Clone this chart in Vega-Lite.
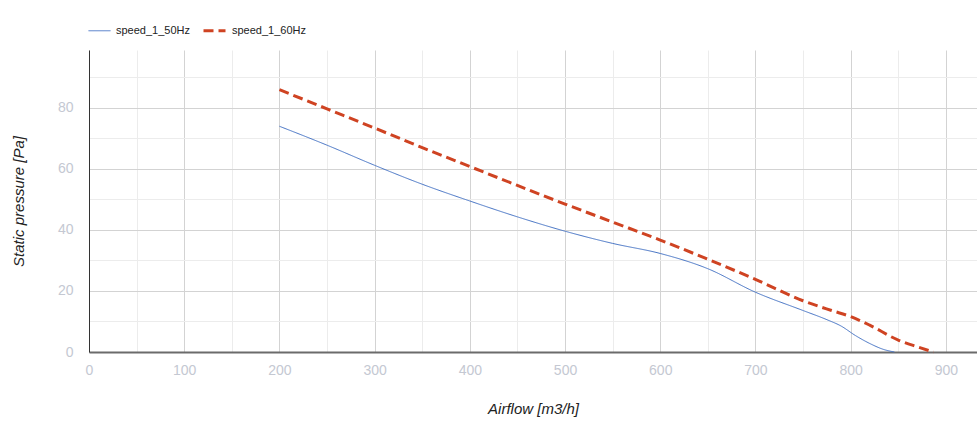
{
  "$schema": "https://vega.github.io/schema/vega-lite/v6.json",
  "autosize": "none",
  "width": 888,
  "height": 302,
  "padding": {"left": 89, "top": 50, "right": 0, "bottom": 70},
  "background": "white",
  "config": {
    "view": {"stroke": null},
    "font": "Liberation Sans",
    "axis": {"labelFont": "Liberation Sans", "titleFont": "Liberation Sans"}
  },
  "data": {
    "values": [
      {"series": "speed_1_50Hz", "airflow": 200, "pressure": 74},
      {"series": "speed_1_50Hz", "airflow": 250, "pressure": 67.8},
      {"series": "speed_1_50Hz", "airflow": 300, "pressure": 61.2},
      {"series": "speed_1_50Hz", "airflow": 350, "pressure": 55},
      {"series": "speed_1_50Hz", "airflow": 400, "pressure": 49.5},
      {"series": "speed_1_50Hz", "airflow": 450, "pressure": 44.3},
      {"series": "speed_1_50Hz", "airflow": 500, "pressure": 39.6},
      {"series": "speed_1_50Hz", "airflow": 550, "pressure": 35.6},
      {"series": "speed_1_50Hz", "airflow": 600, "pressure": 32.3},
      {"series": "speed_1_50Hz", "airflow": 650, "pressure": 27.3},
      {"series": "speed_1_50Hz", "airflow": 700, "pressure": 19.6},
      {"series": "speed_1_50Hz", "airflow": 750, "pressure": 13.6},
      {"series": "speed_1_50Hz", "airflow": 775, "pressure": 10.6},
      {"series": "speed_1_50Hz", "airflow": 790, "pressure": 8.5},
      {"series": "speed_1_50Hz", "airflow": 805, "pressure": 5.4},
      {"series": "speed_1_50Hz", "airflow": 820, "pressure": 2.8},
      {"series": "speed_1_50Hz", "airflow": 835, "pressure": 0.8},
      {"series": "speed_1_50Hz", "airflow": 846, "pressure": 0},
      {"series": "speed_1_60Hz", "airflow": 200, "pressure": 86},
      {"series": "speed_1_60Hz", "airflow": 250, "pressure": 79.7},
      {"series": "speed_1_60Hz", "airflow": 300, "pressure": 73.4},
      {"series": "speed_1_60Hz", "airflow": 350, "pressure": 67},
      {"series": "speed_1_60Hz", "airflow": 400, "pressure": 60.8},
      {"series": "speed_1_60Hz", "airflow": 450, "pressure": 54.6},
      {"series": "speed_1_60Hz", "airflow": 500, "pressure": 48.5},
      {"series": "speed_1_60Hz", "airflow": 550, "pressure": 42.6},
      {"series": "speed_1_60Hz", "airflow": 600, "pressure": 36.7},
      {"series": "speed_1_60Hz", "airflow": 650, "pressure": 30.4},
      {"series": "speed_1_60Hz", "airflow": 700, "pressure": 23.8},
      {"series": "speed_1_60Hz", "airflow": 750, "pressure": 16.8},
      {"series": "speed_1_60Hz", "airflow": 780, "pressure": 13.6},
      {"series": "speed_1_60Hz", "airflow": 800, "pressure": 11.6},
      {"series": "speed_1_60Hz", "airflow": 820, "pressure": 8.8},
      {"series": "speed_1_60Hz", "airflow": 850, "pressure": 3.9},
      {"series": "speed_1_60Hz", "airflow": 870, "pressure": 1.7},
      {"series": "speed_1_60Hz", "airflow": 887, "pressure": 0}
    ]
  },
  "resolve": {"axis": {"x": "independent", "y": "independent"}},
  "layer": [
    {
      "mark": {"type": "line", "strokeOpacity": 0},
      "encoding": {
        "x": {
          "field": "airflow", "type": "quantitative",
          "scale": {"domain": [0, 932.7], "nice": false, "zero": false},
          "axis": {
            "orient": "bottom", "values": [50, 150, 250, 350, 450, 550, 650, 750, 850],
            "grid": true, "gridColor": "#ececec", "gridWidth": 1,
            "labels": false, "ticks": false, "domain": false, "title": null
          }
        },
        "y": {
          "field": "pressure", "type": "quantitative",
          "scale": {"domain": [0, 99], "nice": false},
          "axis": {
            "orient": "left", "values": [10, 30, 50, 70, 90],
            "grid": true, "gridColor": "#ececec", "gridWidth": 1,
            "labels": false, "ticks": false, "domain": false, "title": null
          }
        },
        "detail": {"field": "series"}
      }
    },
    {
      "mark": {"type": "line", "interpolate": "monotone"},
      "encoding": {
        "x": {
          "field": "airflow", "type": "quantitative",
          "scale": {"domain": [0, 932.7], "nice": false, "zero": false},
          "axis": {
            "orient": "bottom", "values": [0, 100, 200, 300, 400, 500, 600, 700, 800, 900],
            "grid": true, "gridColor": "#d3d3d3", "gridWidth": 1,
            "ticks": false, "tickSize": 0, "labelFlush": false,
            "domain": true, "domainColor": "#6b6b6b", "domainWidth": 2,
            "labelFontSize": 14, "labelColor": "#c4c8d2", "labelPadding": 11,
            "labelBaseline": "top",
            "title": "Airflow [m3/h]", "titleFontSize": 15, "titleFontStyle": "italic",
            "titleFontWeight": "normal", "titleColor": "#222222",
            "titleY": 56, "titleBaseline": "middle"
          }
        },
        "y": {
          "field": "pressure", "type": "quantitative",
          "scale": {"domain": [0, 99], "nice": false},
          "axis": {
            "orient": "left", "values": [0, 20, 40, 60, 80],
            "grid": true, "gridColor": "#d3d3d3", "gridWidth": 1,
            "ticks": false, "tickSize": 0, "labelFlush": false,
            "domain": true, "domainColor": "#333333", "domainWidth": 1,
            "labelFontSize": 14, "labelColor": "#c4c8d2", "labelPadding": 16,
            "title": "Static pressure [Pa]", "titleFontSize": 15, "titleFontStyle": "italic",
            "titleFontWeight": "normal", "titleColor": "#222222",
            "titleX": -71, "titleY": 151, "titleBaseline": "middle", "titleAlign": "center", "titleAngle": -90
          }
        },
        "color": {
          "field": "series", "type": "nominal",
          "scale": {"domain": ["speed_1_50Hz", "speed_1_60Hz"], "range": ["#4472c4", "#cf4322"]},
          "legend": {
            "orient": "none", "direction": "horizontal", "legendX": -1, "legendY": -32,
            "title": null, "symbolType": "stroke", "symbolSize": 484,
            "labelFontSize": 11, "labelColor": "#222222", "labelOffset": 5,
            "columnPadding": 6, "labelFont": "Liberation Sans"
          }
        },
        "strokeDash": {
          "field": "series", "type": "nominal",
          "scale": {"domain": ["speed_1_50Hz", "speed_1_60Hz"], "range": [[1, 0], [10, 5]]},
          "legend": null
        },
        "strokeWidth": {
          "field": "series", "type": "nominal",
          "scale": {"domain": ["speed_1_50Hz", "speed_1_60Hz"], "range": [1, 3]},
          "legend": null
        }
      }
    }
  ]
}
